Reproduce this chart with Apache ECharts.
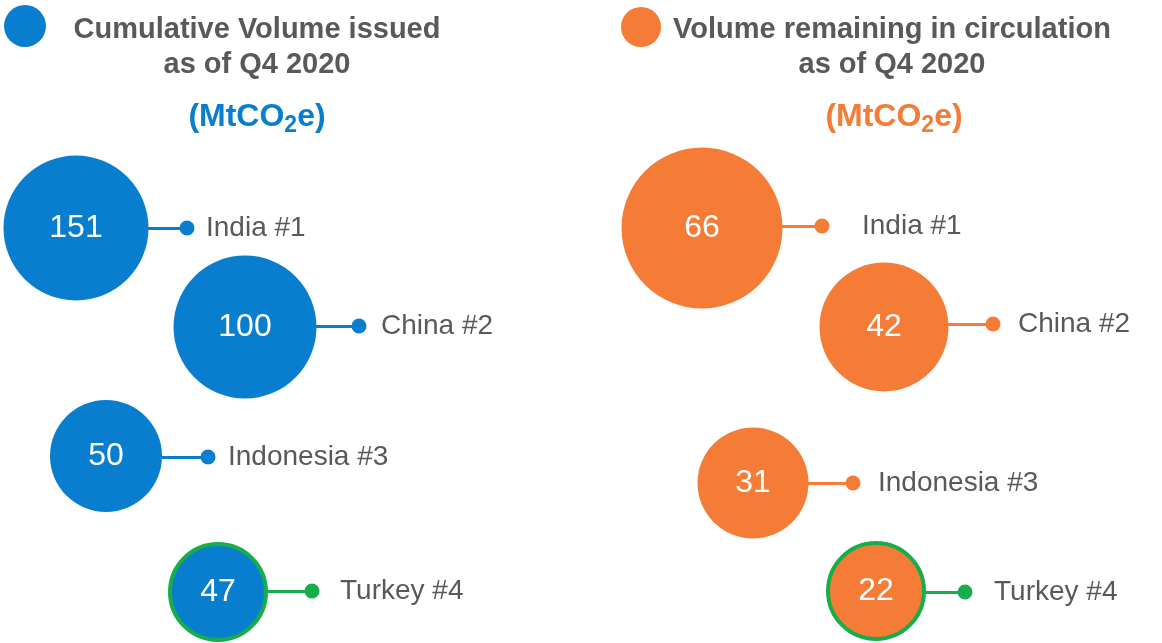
<!DOCTYPE html>
<html>
<head>
<meta charset="utf-8">
<script src="https://cdn.jsdelivr.net/npm/echarts@6/dist/echarts.min.js"></script>
<style>html,body{margin:0;padding:0;background:#fff;}#c{width:1162px;height:643px;}</style>
</head>
<body>
<div id="c"></div>
<script>
// ---- data ----
const countries = ['India', 'China', 'Indonesia', 'Turkey'];
const ranks = ['#1', '#2', '#3', '#4'];
const issued = [151, 100, 50, 47];
const remaining = [66, 42, 31, 22];
const highlightIndex = 3;

// ---- layout (positions / sizes / styles) ----
const BLUE = '#0A7ECE', ORANGE = '#F47C37', GREEN = '#15AE4B', GRAY = '#595959';
const FONT = '"Liberation Sans", Arial, Helvetica, sans-serif';
const layoutL = {
  bx: [76, 245, 106, 218], by: [228, 327, 456, 592], size: [145, 143, 112, 96],
  dx: [187, 359, 208, 312], dy: [228, 326, 457, 591], lx: [206, 381, 228, 340]
};
const layoutR = {
  bx: [702, 884, 753, 876], by: [228, 327, 483, 591], size: [161, 129, 111, 96],
  dx: [822, 993, 853, 965], dy: [226, 324, 483, 592], lx: [862, 1018, 878, 994]
};
const DOT = 15;

function bubbleSeries(name, values, L, color) {
  return {
    name: name, type: 'scatter', z: 5,
    itemStyle: { color: color, opacity: 1 },
    emphasis: { disabled: true },
    label: { show: true, position: 'inside', color: '#fff', fontSize: 32, fontFamily: FONT,
      formatter: p => String(p.value[2]) },
    data: values.map((v, i) => ({
      value: [L.bx[i], L.by[i], v],
      symbolSize: L.size[i],
      itemStyle: i === highlightIndex ? { borderColor: GREEN, borderWidth: 4 } : {}
    }))
  };
}
function lineSeries(L, color) {
  return {
    type: 'lines', coordinateSystem: 'cartesian2d', z: 2, silent: true,
    lineStyle: { width: 3, opacity: 1 },
    data: countries.map((c, i) => ({
      coords: [[L.bx[i] + L.size[i] / 2 - 2, L.dy[i]], [L.dx[i], L.dy[i]]],
      lineStyle: { color: i === highlightIndex ? GREEN : color }
    }))
  };
}
function dotSeries(L, color) {
  return {
    type: 'scatter', z: 4, symbolSize: DOT, silent: true,
    itemStyle: { opacity: 1 },
    label: { show: true, position: 'right', color: GRAY, fontSize: 28, fontFamily: FONT },
    data: countries.map((c, i) => ({
      value: [L.dx[i], L.dy[i]],
      itemStyle: { color: i === highlightIndex ? GREEN : color, opacity: 1 },
      label: { distance: L.lx[i] - L.dx[i] - DOT / 2, formatter: c + ' ' + ranks[i] }
    }))
  };
}

const titleStyle = { font: 'bold 29px ' + FONT, fill: GRAY, align: 'center', verticalAlign: 'top', lineHeight: 35 };
function unitText(x, color) {
  return {
    type: 'text', x: x, y: 97,
    style: {
      text: '{m|(MtCO}{s|2}{m|e)}', align: 'center', verticalAlign: 'top',
      rich: {
        m: { fontSize: 32, fontWeight: 'bold', fontFamily: FONT, fill: color, lineHeight: 40, verticalAlign: 'middle' },
        s: { fontSize: 23, fontWeight: 'bold', fontFamily: FONT, fill: color, lineHeight: 28, verticalAlign: 'bottom' }
      }
    }
  };
}

const chart = echarts.init(document.getElementById('c'), null, { renderer: 'canvas' });
chart.setOption({
  animation: false,
  backgroundColor: '#fff',
  grid: { left: 0, right: 0, top: 0, bottom: 0 },
  xAxis: { type: 'value', min: 0, max: 1162, show: false },
  yAxis: { type: 'value', min: 0, max: 643, inverse: true, show: false },
  legend: [
    { data: ['Cumulative Volume issued'], left: 4, top: 5, itemWidth: 42, itemHeight: 42, formatter: () => '', selectedMode: false, itemGap: 0, padding: 0 },
    { data: ['Volume remaining in circulation'], left: 621, top: 7, itemWidth: 40, itemHeight: 40, formatter: () => '', selectedMode: false, itemGap: 0, padding: 0 }
  ],
  graphic: [
    { type: 'text', x: 257, y: 12, style: Object.assign({ text: 'Cumulative Volume issued\nas of Q4 2020' }, titleStyle) },
    { type: 'text', x: 892, y: 12, style: Object.assign({ text: 'Volume remaining in circulation\nas of Q4 2020' }, titleStyle) },
    unitText(257, BLUE),
    unitText(894, ORANGE)
  ],
  series: [
    lineSeries(layoutL, BLUE),
    lineSeries(layoutR, ORANGE),
    bubbleSeries('Cumulative Volume issued', issued, layoutL, BLUE),
    bubbleSeries('Volume remaining in circulation', remaining, layoutR, ORANGE),
    dotSeries(layoutL, BLUE),
    dotSeries(layoutR, ORANGE)
  ]
});
</script>
</body>
</html>
